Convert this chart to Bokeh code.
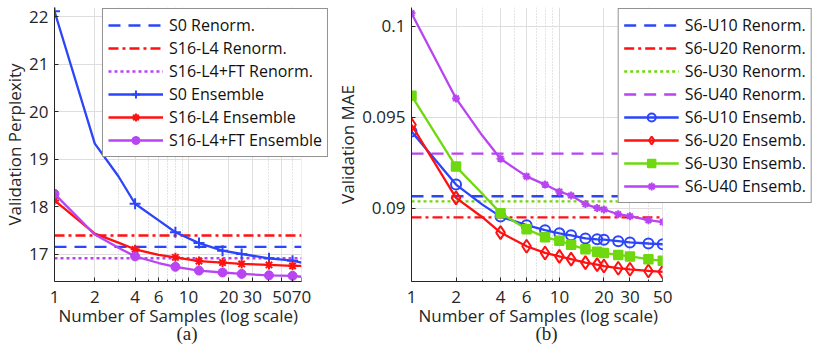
from bokeh.plotting import figure
from bokeh.layouts import row
from bokeh.models import (FixedTicker, CustomJSTickFormatter, Legend, LegendItem,
                          Title, Range1d, BoxAnnotation)
from bokeh.embed import file_html
from bokeh.resources import INLINE

# ---------------- data: panel (a) ----------------
samples_a = [1, 2, 3, 4, 6, 8, 12, 18, 25, 40, 60, 70]
marker_samples_a = [1, 4, 8, 12, 18, 25, 40, 60]
s0_ensemble = [22.12, 19.33, 18.64, 18.06, 17.71, 17.46, 17.23, 17.07, 17.00, 16.91, 16.86, 16.82]
s16_ensemble = [18.13, 17.43, 17.24, 17.10, 16.98, 16.93, 16.85, 16.82, 16.79, 16.77, 16.75, 16.75]
s16ft_ensemble = [18.27, 17.41, 17.13, 16.95, 16.81, 16.73, 16.65, 16.61, 16.58, 16.55, 16.54, 16.52]
s0_renorm = 17.15
s16_renorm = 17.39
s16ft_renorm = 16.91
xticks_a = [1, 2, 4, 6, 10, 20, 30, 50, 70]
xminor_a = [3, 5, 7, 8, 9, 40, 60]
yticks_a = [17, 18, 19, 20, 21, 22]

# ---------------- data: panel (b) ----------------
samples_b = [1, 2, 3, 4, 6, 8, 10, 12, 15, 18, 20, 25, 30, 40, 50]
marker_samples_b = [1, 2, 4, 6, 8, 10, 12, 15, 18, 20, 25, 30, 40, 50]
u10_ensemb = [0.09421, 0.09129, 0.09020, 0.08953, 0.08906, 0.08878, 0.08861, 0.08850,
              0.08833, 0.08828, 0.08826, 0.08818, 0.08811, 0.08805, 0.08801]
u20_ensemb = [0.09458, 0.09056, 0.08951, 0.08865, 0.08790, 0.08753, 0.08734, 0.08719,
              0.08700, 0.08689, 0.08681, 0.08669, 0.08663, 0.08654, 0.08649]
u30_ensemb = [0.09618, 0.09228, 0.09080, 0.08972, 0.08884, 0.08840, 0.08820, 0.08798,
              0.08773, 0.08760, 0.08753, 0.08742, 0.08734, 0.08719, 0.08710]
u40_ensemb = [0.10071, 0.09603, 0.09400, 0.09271, 0.09174, 0.09129, 0.09090, 0.09069,
              0.09022, 0.09000, 0.08992, 0.08966, 0.08955, 0.08933, 0.08923]
u10_renorm = 0.09065
u20_renorm = 0.08949
u30_renorm = 0.09037
u40_renorm = 0.09299
xticks_b = [1, 2, 4, 6, 10, 20, 30, 50]
xminor_b = [3, 5, 7, 8, 9, 40]
yticks_b = [0.09, 0.095, 0.1]

XLABEL = "Number of Samples (log scale)"

BLUE = "#2b45fa"
RED = "#ff1111"
PURPLE = "#b844f2"
GREEN = "#6fd80e"
AXIS = "#262626"
SANS = "Open Sans"
SERIF = "Liberation Serif"
LW = 2.3


def pick(xs, ys, sel):
    return [ys[xs.index(v)] for v in sel]


def style(p, xticks, xminor, yticks, xmax, yfmt=None):
    p.xaxis.ticker = FixedTicker(ticks=xticks, minor_ticks=xminor)
    p.yaxis.ticker = FixedTicker(ticks=yticks)
    p.xaxis.formatter = CustomJSTickFormatter(code="return String(tick)")
    p.xaxis.bounds = (xticks[0], xmax)
    if yfmt:
        p.yaxis.formatter = CustomJSTickFormatter(code=yfmt)
    p.outline_line_color = None
    p.background_fill_color = "white"
    for g in (p.xgrid, p.ygrid):
        g.grid_line_color = "#dedede"
        g.grid_line_width = 1
    p.xgrid.minor_grid_line_color = "#c8c8c8"
    p.xgrid.minor_grid_line_dash = "1 2"
    for ax in (p.xaxis, p.yaxis):
        ax.axis_line_color = AXIS
        ax.axis_line_width = 1
        ax.major_tick_in = 4
        ax.major_tick_out = 0
        ax.minor_tick_in = 2
        ax.minor_tick_out = 0
        ax.major_tick_line_color = AXIS
        ax.minor_tick_line_color = AXIS
        ax.major_label_text_font = SANS
        ax.major_label_text_font_size = "17px"
        ax.major_label_text_color = AXIS
        ax.axis_label_text_font = SANS
        ax.axis_label_text_font_size = "17px"
        ax.axis_label_text_font_style = "normal"
        ax.axis_label_text_color = AXIS
    p.yaxis.minor_tick_in = 0
    p.xaxis.major_label_standoff = 9
    p.yaxis.major_label_standoff = 6
    p.yaxis.axis_label_standoff = 0
    # blank out the part of the frame right of the data (room for the legend)
    p.add_layout(BoxAnnotation(left=xmax, fill_color="white", fill_alpha=1,
                               line_color=None))


def make_legend(p, items):
    leg = Legend(items=items, location="top_right")
    leg.border_line_color = AXIS
    leg.border_line_width = 1
    leg.background_fill_color = "white"
    leg.background_fill_alpha = 1
    leg.label_text_font = SANS
    leg.label_text_font_size = "16px"
    leg.label_text_color = "#111111"
    leg.glyph_width = 55
    leg.glyph_height = 20
    leg.label_height = 20
    leg.spacing = 1
    leg.padding = 5
    leg.margin = 1
    leg.label_standoff = 6
    p.add_layout(leg, "center")


def below_text(p, text, font, size, offset, standoff):
    t = Title(text=text, align="left", offset=offset, standoff=standoff,
              text_font=font, text_font_size=size, text_font_style="normal",
              text_color=AXIS)
    p.add_layout(t, "below")


# ---------------- panel (a) ----------------
FW_A = 285          # frame width (data part 256 px + legend overhang)
xmax_a = samples_a[-1]
pa = figure(width=333, height=347, x_axis_type="log",
            x_range=Range1d(samples_a[0], xmax_a ** (FW_A / 256)), y_range=Range1d(16.42, 22.2),
            output_backend="svg", toolbar_location=None,
            min_border_left=44, min_border_right=333 - 44 - FW_A,
            min_border_top=4, min_border_bottom=66)
pa.yaxis.axis_label = "Validation Perplexity"

xr_a = [samples_a[0], xmax_a]
r_s0r = pa.line(xr_a, [s0_renorm] * 2, color=BLUE, line_width=LW, line_dash="12 8")
r_s16r = pa.line(xr_a, [s16_renorm] * 2, color=RED, line_width=LW, line_dash="10 4 3 4")
r_ftr = pa.line(xr_a, [s16ft_renorm] * 2, color=PURPLE, line_width=LW, line_dash="3 3")

l_s0 = pa.line(samples_a, s0_ensemble, color=BLUE, line_width=LW)
m_s0 = pa.scatter(marker_samples_a, pick(samples_a, s0_ensemble, marker_samples_a),
                  marker="cross", size=11, line_color=BLUE, line_width=2)
l_s16 = pa.line(samples_a, s16_ensemble, color=RED, line_width=LW)
m_s16 = pa.scatter(marker_samples_a, pick(samples_a, s16_ensemble, marker_samples_a),
                   marker="asterisk", size=9, line_color=RED, line_width=2)
l_ft = pa.line(samples_a, s16ft_ensemble, color=PURPLE, line_width=LW)
m_ft = pa.scatter(marker_samples_a, pick(samples_a, s16ft_ensemble, marker_samples_a),
                  marker="circle", size=9, line_color=PURPLE, fill_color=PURPLE)

style(pa, xticks_a, xminor_a, yticks_a, xmax_a)
make_legend(pa, [
    LegendItem(label="S0 Renorm.", renderers=[r_s0r]),
    LegendItem(label="S16-L4 Renorm.", renderers=[r_s16r]),
    LegendItem(label="S16-L4+FT Renorm.", renderers=[r_ftr]),
    LegendItem(label="S0 Ensemble", renderers=[l_s0, m_s0]),
    LegendItem(label="S16-L4 Ensemble", renderers=[l_s16, m_s16]),
    LegendItem(label="S16-L4+FT Ensemble", renderers=[l_ft, m_ft]),
])
below_text(pa, XLABEL, SANS, "17px", 4, -7)
below_text(pa, "(a)", SERIF, "19px", 122, -6)

# ---------------- panel (b) ----------------
FW_B = 408          # frame width (data part 255 px + legend overhang)
xmax_b = samples_b[-1]
pb = figure(width=482, height=347, x_axis_type="log",
            x_range=Range1d(samples_b[0], xmax_b ** (FW_B / 255)),
            y_range=Range1d(0.08596, 0.10103),
            output_backend="svg", toolbar_location=None,
            min_border_left=72, min_border_right=482 - 72 - FW_B,
            min_border_top=7, min_border_bottom=66)
pb.yaxis.axis_label = "Validation MAE"

xr_b = [samples_b[0], xmax_b]
r_u10 = pb.line(xr_b, [u10_renorm] * 2, color=BLUE, line_width=LW, line_dash="12 8")
r_u20 = pb.line(xr_b, [u20_renorm] * 2, color=RED, line_width=LW, line_dash="10 4 3 4")
r_u30 = pb.line(xr_b, [u30_renorm] * 2, color=GREEN, line_width=LW, line_dash="3 3")
r_u40 = pb.line(xr_b, [u40_renorm] * 2, color=PURPLE, line_width=LW, line_dash="12 8")

l10 = pb.line(samples_b, u10_ensemb, color=BLUE, line_width=LW)
m10 = pb.scatter(marker_samples_b, pick(samples_b, u10_ensemb, marker_samples_b),
                 marker="circle", size=10, line_color=BLUE, line_width=2, fill_color=None)
l20 = pb.line(samples_b, u20_ensemb, color=RED, line_width=LW)
m20 = pb.scatter(marker_samples_b, pick(samples_b, u20_ensemb, marker_samples_b),
                 marker="diamond", size=13, line_color=RED, line_width=2, fill_color=None)
l30 = pb.line(samples_b, u30_ensemb, color=GREEN, line_width=LW)
m30 = pb.scatter(marker_samples_b, pick(samples_b, u30_ensemb, marker_samples_b),
                 marker="square", size=9, line_color=GREEN, line_width=1.5, fill_color=GREEN)
l40 = pb.line(samples_b, u40_ensemb, color=PURPLE, line_width=LW)
m40 = pb.scatter(marker_samples_b, pick(samples_b, u40_ensemb, marker_samples_b),
                 marker="asterisk", size=8, line_color=PURPLE, line_width=2)

style(pb, xticks_b, xminor_b, yticks_b, xmax_b,
      yfmt="return String(Math.round(tick*1000)/1000)")
make_legend(pb, [
    LegendItem(label="S6-U10 Renorm.", renderers=[r_u10]),
    LegendItem(label="S6-U20 Renorm.", renderers=[r_u20]),
    LegendItem(label="S6-U30 Renorm.", renderers=[r_u30]),
    LegendItem(label="S6-U40 Renorm.", renderers=[r_u40]),
    LegendItem(label="S6-U10 Ensemb.", renderers=[l10, m10]),
    LegendItem(label="S6-U20 Ensemb.", renderers=[l20, m20]),
    LegendItem(label="S6-U30 Ensemb.", renderers=[l30, m30]),
    LegendItem(label="S6-U40 Ensemb.", renderers=[l40, m40]),
])
below_text(pb, XLABEL, SANS, "17px", 7, -7)
below_text(pb, "(b)", SERIF, "19px", 124, -6)

layout = row(pa, pb)
open("out.html", "w").write(file_html(layout, INLINE))
